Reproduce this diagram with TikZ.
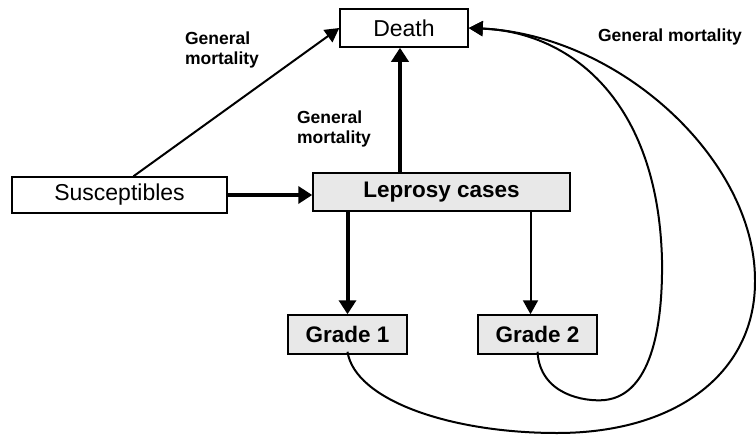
\documentclass[tikz,border=0pt]{standalone}
\usepackage{fontspec}
\setmainfont{Liberation Sans}
\usetikzlibrary{arrows.meta}
\begin{document}
\begin{tikzpicture}[x=1pt,y=-1pt,
    box/.style={draw,line width=1.5pt,inner sep=0pt,
      font=\fontsize{23}{27}\selectfont},
    grey/.style={box,fill=black!9,font=\fontsize{22.5}{27}\selectfont\bfseries},
    lab/.style={align=left,inner sep=0pt,
      font=\fontsize{17.5}{20}\selectfont\bfseries},
    thinarrow/.style={line width=2pt,-{Triangle[length=14pt,width=15pt]}},
    thickarrow/.style={line width=4pt,-{Triangle[length=14pt,width=17pt]}}]
  \useasboundingbox (0,0) rectangle (756,437);
  \draw
    (404,28) node[box,minimum width=128,minimum height=38] (death){Death}
    (119.5,195) node[box,minimum width=215,minimum height=36] (sus){Susceptibles}
    (441.5,192) node[grey,minimum width=257,minimum height=38] (lep){Leprosy cases}
    (347.5,334.5) node[grey,minimum width=119,minimum height=39] (g1){Grade 1}
    (537.5,334.5) node[grey,minimum width=119,minimum height=39] (g2){Grade 2};
  \draw
    (222,50) node[lab] (l1){General\\mortality}
    (334,129) node[lab] (l2){General\\mortality}
    (670,37) node[lab] (l3){General mortality};
  \begin{scope}[line join=round]
    \draw[thickarrow] (sus.east) -- (lep.west |- sus.east);
    \draw[thickarrow] ([xshift=-4pt]death.south |- lep.north) -- ([xshift=-4pt]death.south);
    \draw[thickarrow] (g1 |- lep.south) -- (g1.north);
    \draw[thinarrow] ([xshift=-7pt]g2 |- lep.south) -- ([xshift=-7pt]g2.north);
    \draw[thinarrow] ([xshift=14pt]sus.north) -- (death.west);
    \draw[thinarrow] ([yshift=3pt]g1.south) .. controls (355,400) and (450,433) .. (557,433)
      .. controls (680,433) and (756,370) .. (755,280)
      .. controls (755,160) and (620,35) .. (death.east);
    \draw[thinarrow] ([yshift=3pt]g2.south) .. controls (540,395) and (585,402) .. (605,400)
      .. controls (650,395) and (663,330) .. (662,260)
      .. controls (658,100) and (570,32) .. (death.east);
  \end{scope}
\end{tikzpicture}
\end{document}
